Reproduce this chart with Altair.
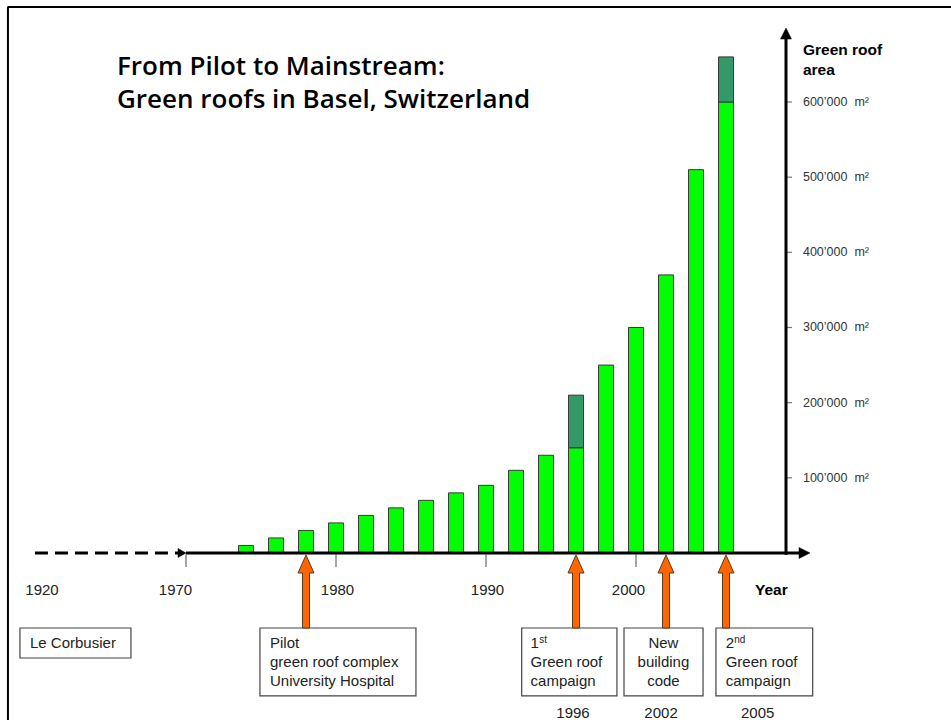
import altair as alt
import pandas as pd

# ---------------- data ----------------
bar_years = [1974, 1976, 1978, 1980, 1982, 1984, 1986, 1988, 1990, 1992,
             1994, 1996, 1998, 2000, 2002, 2004, 2006]
bar_area = [10000, 20000, 30000, 40000, 50000, 60000, 70000, 80000, 90000,
            110000, 130000, 140000, 250000, 300000, 370000, 510000, 600000]
extra_years = [1996, 2006]
extra_area = [70000, 60000]

x_tick_years = [1970, 1980, 1990, 2000]
x_label_text = ["1920", "1970", "1980", "1990", "2000"]
x_label_pos = [1960.4, 1969.3, 1980.1, 1990.1, 1999.5]

y_tick_values = [100000, 200000, 300000, 400000, 500000, 600000]
y_tick_text = ["100\u2019000\u00a0\u00a0m\u00b2", "200\u2019000\u00a0\u00a0m\u00b2",
               "300\u2019000\u00a0\u00a0m\u00b2", "400\u2019000\u00a0\u00a0m\u00b2",
               "500\u2019000\u00a0\u00a0m\u00b2", "600\u2019000\u00a0\u00a0m\u00b2"]

event_bar_years = [1978, 1996, 2002, 2006]
event_label_years = ["1996", "2002", "2005"]

title_lines = ["From Pilot to Mainstream:", "Green roofs in Basel, Switzerland"]

# ---------------- scales ----------------
xs = alt.Scale(domain=[1957.6, 2021.0], nice=False, zero=False)
ys = alt.Scale(domain=[-222200, 735700], nice=False, zero=False)


def X(f="x"):
    return alt.X(f"{f}:Q", scale=xs, axis=None)


def X2(f="x2"):
    return alt.X2(f"{f}:Q")


def Y(f="y"):
    return alt.Y(f"{f}:Q", scale=ys, axis=None)


def Y2(f="y2"):
    return alt.Y2(f"{f}:Q")


FONT = "Liberation Sans"
TXT = "#222222"

# ---------------- frame ----------------
frame_h = alt.Chart(pd.DataFrame({"x": [1958.13], "x2": [2021.5], "y": [726300]})).mark_rule(
    color="black", strokeWidth=2).encode(x=X(), x2=X2(), y=Y())
frame_v = alt.Chart(pd.DataFrame({"x": [1958.13], "y": [727000], "y2": [-230000]})).mark_rule(
    color="black", strokeWidth=2).encode(x=X(), y=Y(), y2=Y2())

# ---------------- bars ----------------
bars_df = pd.DataFrame({"year": bar_years, "area": bar_area})
bars = alt.Chart(bars_df).transform_calculate(
    x0="datum.year - 0.5", x1="datum.year + 0.5", base="0"
).mark_rect(fill="#00FF00", stroke="#3a3a3a", strokeWidth=1).encode(
    x=X("x0"), x2=X2("x1"), y=Y("base"), y2=Y2("area"))

extra_df = pd.DataFrame({"year": extra_years, "extra": extra_area})
extra_df = extra_df.merge(bars_df, on="year")
extra = alt.Chart(extra_df).transform_calculate(
    x0="datum.year - 0.5", x1="datum.year + 0.5", top="datum.area + datum.extra"
).mark_rect(fill="#339966", stroke="#3a3a3a", strokeWidth=1).encode(
    x=X("x0"), x2=X2("x1"), y=Y("area"), y2=Y2("top"))

# ---------------- axes ----------------
dashed = alt.Chart(pd.DataFrame({"x": [1959.93], "x2": [1969.55], "y": [0]})).mark_rule(
    color="black", strokeWidth=3, strokeDash=[13, 7]).encode(x=X(), x2=X2(), y=Y())
dash_head = alt.Chart(pd.DataFrame({"x": [1970.0], "y": [0]})).mark_point(
    shape="M 0 0 L -8 -4.5 L -8 4.5 Z", size=4, filled=True, fill="black",
    stroke="black", strokeWidth=0.5, opacity=1).encode(x=X(), y=Y())

x_axis = alt.Chart(pd.DataFrame({"x": [1970.0], "x2": [2011.2], "y": [0]})).mark_rule(
    color="black", strokeWidth=3).encode(x=X(), x2=X2(), y=Y())
x_head = alt.Chart(pd.DataFrame({"x": [2011.6], "y": [0]})).mark_point(
    shape="M 0 0 L -11 -5.5 L -11 5.5 Z", size=4, filled=True, fill="black",
    stroke="black", strokeWidth=0.5, opacity=1).encode(x=X(), y=Y())

y_axis = alt.Chart(pd.DataFrame({"x": [2010.0], "y": [-2500], "y2": [688000]})).mark_rule(
    color="black", strokeWidth=3).encode(x=X(), y=Y(), y2=Y2())
y_head = alt.Chart(pd.DataFrame({"x": [2010.0], "y": [698400]})).mark_point(
    shape="M 0 0 L -5.5 11 L 5.5 11 Z", size=4, filled=True, fill="black",
    stroke="black", strokeWidth=0.5, opacity=1).encode(x=X(), y=Y())

x_ticks = alt.Chart(pd.DataFrame({"x": x_tick_years})).transform_calculate(
    y="-2000", y2="-18600").mark_rule(color="#777777", strokeWidth=1.3).encode(
    x=X(), y=Y(), y2=Y2())
x_labels = alt.Chart(pd.DataFrame({"x": x_label_pos, "t": x_label_text})).transform_calculate(
    y="-49200").mark_text(font=FONT, fontSize=15, color=TXT, align="center",
                          baseline="middle").encode(x=X(), y=Y(), text="t:N")
year_title = alt.Chart(pd.DataFrame({"x": [2007.93], "y": [-49200], "t": ["Year"]})).mark_text(
    font=FONT, fontSize=15.5, fontWeight="bold", color="black", align="left",
    baseline="middle").encode(x=X(), y=Y(), text="t:N")

y_ticks = alt.Chart(pd.DataFrame({"y": y_tick_values})).transform_calculate(
    x="2010.0", x2="2010.4").mark_rule(color="#777777", strokeWidth=1.2).encode(
    x=X(), x2=X2(), y=Y())
y_labels = alt.Chart(pd.DataFrame({"y": y_tick_values, "t": y_tick_text})).transform_calculate(
    x="2011.13").mark_text(font=FONT, fontSize=12.5, color="#333333", align="left",
                           baseline="middle").encode(x=X(), y=Y(), text="t:N")
y_title = alt.Chart(pd.DataFrame({"x": [2011.13, 2011.13], "y": [669000, 642500],
                                  "t": ["Green roof", "area"]})).mark_text(
    font=FONT, fontSize=15.5, fontWeight="bold", color="black", align="left",
    baseline="middle").encode(x=X(), y=Y(), text="t:N")

# ---------------- title ----------------
title = alt.Chart(pd.DataFrame({"x": [1965.4, 1965.4], "y": [636000, 592300],
                                "t": title_lines})).mark_text(
    font="Open Sans", fontSize=26, fontWeight=600, color="black", align="left",
    baseline="alphabetic").encode(x=X(), y=Y(), text="t:N")

# ---------------- event arrows ----------------
arrows = alt.Chart(pd.DataFrame({"x": event_bar_years, "y": [0] * 4})).mark_point(
    shape="M 0 2 L 8 20 L 3.5 20 L 3.5 75 L -3.5 75 L -3.5 20 L -8 20 Z",
    size=4, filled=True, fill="#FF6600", stroke="#5a3a20", strokeWidth=1,
    opacity=1).encode(x=X(), y=Y())

# ---------------- annotation boxes ----------------
boxes_df = pd.DataFrame({
    "x": [1958.93, 1974.93, 1992.38, 1999.2, 2005.33],
    "x2": [1966.33, 1985.33, 1998.73, 2004.47, 2011.78],
    "y": [-99800, -99800, -99800, -99800, -99800],
    "y2": [-139700, -190200, -190200, -190200, -190200],
})
boxes = alt.Chart(boxes_df).mark_rect(fill="white", stroke="#444444", strokeWidth=1.2).encode(
    x=X(), x2=X2(), y=Y(), y2=Y2())

L1, L2, L3 = -119700, -145000, -170300
left_text_df = pd.DataFrame({
    "x": [1959.6, 1975.6, 1975.6, 1975.6, 1992.97, 1992.97, 1992.97, 2005.98, 2005.98, 2005.98],
    "y": [L1, L1, L2, L3, L1, L2, L3, L1, L2, L3],
    "t": ["Le Corbusier", "Pilot", "green roof complex", "University  Hospital",
          "1", "Green roof", "campaign", "2", "Green roof", "campaign"],
})
left_text = alt.Chart(left_text_df).mark_text(
    font=FONT, fontSize=15, color=TXT, align="left", baseline="middle").encode(
    x=X(), y=Y(), text="t:N")

sup_df = pd.DataFrame({"x": [1993.55, 2006.55], "y": [-115300, -115300], "t": ["st", "nd"]})
sup_text = alt.Chart(sup_df).mark_text(
    font=FONT, fontSize=10, color=TXT, align="left", baseline="middle").encode(
    x=X(), y=Y(), text="t:N")

center_text_df = pd.DataFrame({"x": [2001.83] * 3, "y": [L1, L2, L3],
                               "t": ["New", "building", "code"]})
center_text = alt.Chart(center_text_df).mark_text(
    font=FONT, fontSize=15, color=TXT, align="center", baseline="middle").encode(
    x=X(), y=Y(), text="t:N")

event_year_df = pd.DataFrame({"x": [1995.8, 2001.67, 2008.11], "y": [-212800] * 3,
                              "t": event_label_years})
event_year_text = alt.Chart(event_year_df).mark_text(
    font=FONT, fontSize=15, color=TXT, align="center", baseline="middle").encode(
    x=X(), y=Y(), text="t:N")

chart = alt.layer(
    frame_h, frame_v, bars, extra, dashed, dash_head, x_ticks, y_ticks,
    x_axis, x_head, y_axis, y_head, x_labels, year_title, y_labels, y_title,
    title, boxes, arrows, left_text, sup_text, center_text, event_year_text,
).properties(
    width=951, height=720, autosize=alt.AutoSizeParams(type="none"), padding=0,
    background="white",
).configure_view(stroke=None)

chart.save("out.html", embed_options={"renderer": "svg", "actions": False})
